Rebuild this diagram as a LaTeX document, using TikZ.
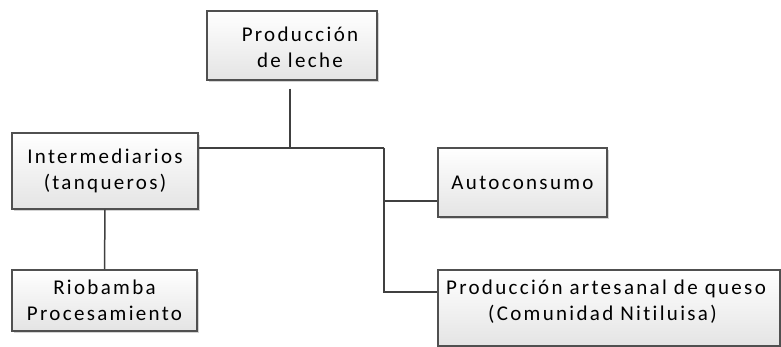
\documentclass[tikz,border=0pt]{standalone}
\usepackage{fontspec}
\setmainfont{Carlito}[LetterSpace=11,Ligatures=NoCommon]
\usetikzlibrary{positioning,shadows}
\definecolor{myline}{RGB}{64,64,64}
\definecolor{myedge}{RGB}{80,80,80}
\definecolor{myfill}{RGB}{228,228,228}

\begin{document}
\begin{tikzpicture}[x=1pt,y=-1pt,font=\fontsize{21}{26}\selectfont,
  box/.style={draw=myedge,line width=1.1pt,top color=white,bottom color=myfill,
    drop shadow={opacity=0.35,shadow xshift=2pt,shadow yshift=-2pt},
    align=center,inner sep=0pt},
  txt/.style={align=center,inner sep=0pt},
  link/.style={draw=myline,line width=1.5pt}]

  \useasboundingbox (0,0) rectangle (781,347);

  % boxes
  \node[box,minimum width=170pt,minimum height=69pt] (leche) at (292,45.5) {};
  \node[txt] (lechetxt) at ([xshift=8pt,yshift=-2pt]leche.center) {Producción\\de leche};
  \node[box,minimum width=186pt,minimum height=76pt] (interm) at (105,171) {Intermediarios\\(tanqueros)};
  \node[box,minimum width=185pt,minimum height=61pt] (riob) at (104.5,300.5) {Riobamba\\Procesamiento};
  \node[box,minimum width=169pt,minimum height=69pt] (autoc) at (522.5,182.5) {Autoconsumo};
  \node[box,minimum width=342pt,minimum height=76pt] (queso) at (609,308) {};
  \node[txt,align=left] (quesotxt) at ([xshift=-3pt,yshift=6pt]queso.center) {Producción artesanal de queso\\\hspace*{42pt}(Comunidad Nitiluisa)};

  % junctions
  \coordinate (hub) at (290,148);
  \coordinate (rbranch) at (384,148);

  % connectors
  \draw[link] ([yshift=-8pt]leche.south -| hub) -- (hub);
  \draw[link] (interm.east |- hub) -- (rbranch);
  \draw[link] (rbranch) |- ([yshift=-18.5pt]autoc.west);
  \draw[link] (rbranch) |- ([yshift=16pt]queso.west);
  \draw[link] (interm.south) -- (riob.north);

\end{tikzpicture}
\end{document}
